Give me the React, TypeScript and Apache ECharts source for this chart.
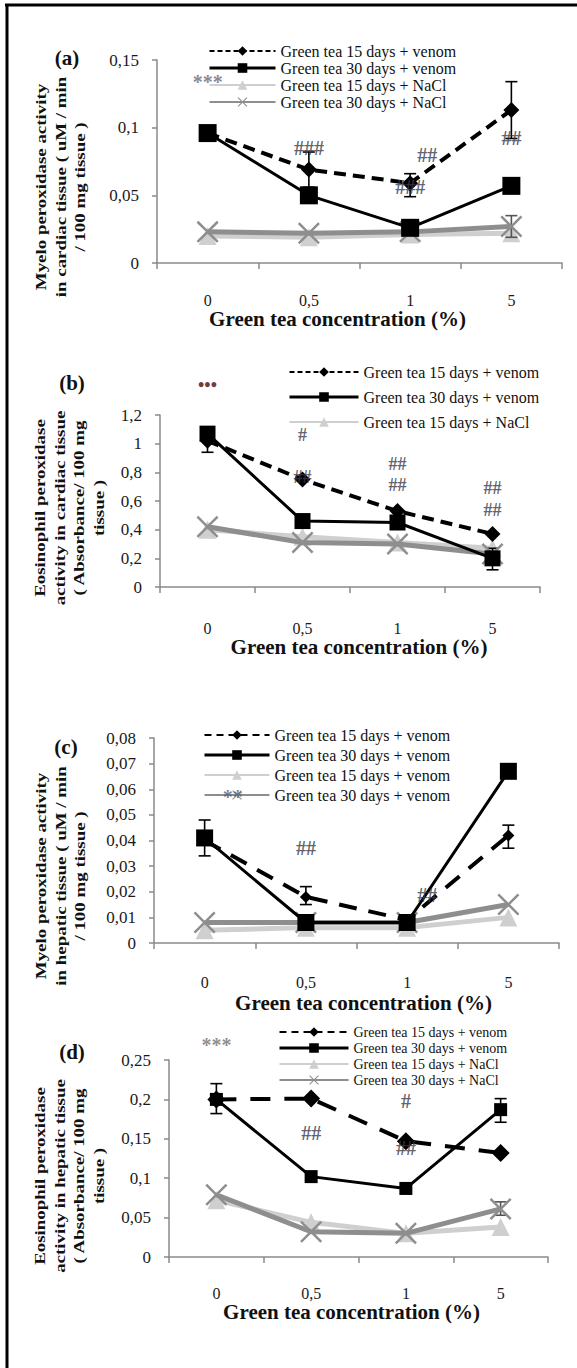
import React, { useEffect, useRef } from "react";
import * as echarts from "echarts";

// ---------- DATA ----------
const categories = ["0", "0,5", "1", "5"];

const legendA = ["Green tea 15 days + venom", "Green tea 30 days + venom", "Green tea 15 days + NaCl", "Green tea 30 days + NaCl"];
const legendB = ["Green tea 15 days + venom", "Green tea 30 days + venom", "Green tea 15 days + NaCl", "Green tea 30 days + NaCl"];
const legendC = ["Green tea 15 days + venom", "Green tea 30 days + venom", "Green tea 15 days + venom", "Green tea 30 days + venom"];
const legendD = ["Green tea 15 days + venom", "Green tea 30 days + venom", "Green tea 15 days + NaCl", "Green tea 30 days + NaCl"];

// (a) Myeloperoxidase, cardiac
const a15Venom = [0.096, 0.069, 0.059, 0.113];
const a30Venom = [0.096, 0.05, 0.026, 0.057];
const a15NaCl = [0.02, 0.019, 0.021, 0.022];
const a30NaCl = [0.023, 0.022, 0.023, 0.027];
const aErr15Venom = [[1, 0.056, 0.082], [2, 0.049, 0.066], [3, 0.092, 0.134]];
const aErr30NaCl = [[3, 0.019, 0.035]];
const annotA = [[0, 0.134, "***"], [1, 0.085, "###"], [2, 0.08, "##"], [2, 0.056, "###"], [3, 0.092, "##"]];

// (b) Eosinophil peroxidase, cardiac
const b15Venom = [1.02, 0.75, 0.53, 0.37];
const b30Venom = [1.07, 0.46, 0.45, 0.2];
const b15NaCl = [0.4, 0.35, 0.31, 0.27];
const b30NaCl = [0.42, 0.31, 0.3, 0.23];
const bErr30Venom = [[0, 0.94, 1.07], [3, 0.12, 0.27]];
const annotB = [[0, 1.41, "•••"], [1, 1.06, "#"], [1, 0.77, "##"], [2, 0.86, "##"], [2, 0.71, "##"], [3, 0.69, "##"], [3, 0.54, "##"]];

// (c) Myeloperoxidase, hepatic
const c15Venom = [0.04, 0.018, 0.009, 0.042];
const c30Venom = [0.041, 0.008, 0.008, 0.067];
const c15NaCl = [0.005, 0.006, 0.006, 0.01];
const c30NaCl = [0.008, 0.008, 0.008, 0.015];
const cErr30Venom = [[0, 0.034, 0.048]];
const cErr15Venom = [[1, 0.015, 0.022], [3, 0.037, 0.046]];
const annotC = [[1, 0.037, "##"], [2, 0.0187, "##"], [0, 0.057, "**"]];

// (d) Eosinophil peroxidase, hepatic
const d15Venom = [0.2, 0.201, 0.147, 0.132];
const d30Venom = [0.2, 0.102, 0.087, 0.187];
const d15NaCl = [0.072, 0.044, 0.03, 0.038];
const d30NaCl = [0.079, 0.032, 0.03, 0.061];
const dErr30Venom = [[0, 0.182, 0.22], [3, 0.171, 0.201]];
const dErr30NaCl = [[3, 0.053, 0.07]];
const annotD = [[0, 0.269, "***"], [1, 0.157, "##"], [2, 0.198, "#"], [2, 0.138, "##"]];

// ---------- STYLE / LAYOUT ----------
const FONT = '"Liberation Serif", "Times New Roman", serif';
const AXIS_COLOR = "#8a8a8a";
const XPATH = "path://M0,0.8L0.8,0L5,4.2L9.2,0L10,0.8L5.8,5L10,9.2L9.2,10L5,5.8L0.8,10L0,9.2L4.2,5Z";

const STYLES = [
  { color: "#000000", width: 4, symbol: "diamond", z: 4 },
  { color: "#000000", width: 3, symbol: "rect", z: 5 },
  { color: "#cfcfcf", width: 5, symbol: "triangle", z: 2 },
  { color: "#8e8e8e", width: 5, symbol: XPATH, z: 3 },
];

const HASH = "#3a3a4a";

const PANELS = [
  {
    id: "a", tag: "(a)", tagPos: [67, 58],
    yTitle: "Myelo peroxidase activity\nin cardiac tissue ( uM / min\n/ 100 mg tissue )", yTitlePos: [61, 187],
    grid: { left: 157, top: 60, width: 405, height: 203 }, max: 0.15, interval: 0.05,
    values: [a15Venom, a30Venom, a15NaCl, a30NaCl], labels: legendA, legendCount: 4,
    errors: [{ s: 0, data: aErr15Venom }, { s: 3, data: aErr30NaCl }],
    annots: annotA, annotShift: [0, 0, 17, 0, 0], annotColors: ["#66687a", HASH, HASH, HASH, HASH], annotSize: 20,
    legend: { left: 208, top: 43, itemWidth: 66, itemGap: 1, fontSize: 16 },
    labelMargin: 29, nameGap: 43, nameShift: -22, sizes: [16, 18, 18, 22], dash: [12, 7], legendDash: [5, 3],
  },
  {
    id: "b", tag: "(b)", tagPos: [72, 383],
    yTitle: "Eosinophil peroxidase\nactivity in cardiac tissue\n( Absorbance/ 100 mg\ntissue )", yTitlePos: [70, 508],
    grid: { left: 160, top: 415, width: 380, height: 172 }, max: 1.2, interval: 0.2,
    values: [b15Venom, b30Venom, b15NaCl, b30NaCl], labels: legendB, legendCount: 3,
    errors: [{ s: 1, data: bErr30Venom }],
    annots: annotB, annotShift: [0, 0, 0, 0, 0, 0, 0], annotColors: ["#4a0808", HASH, HASH, HASH, HASH, HASH, HASH], annotSize: 18,
    legend: { left: 288, top: 364, itemWidth: 69, itemGap: 9, fontSize: 16 },
    labelMargin: 33, nameGap: 44, nameShift: 9, sizes: [16, 16, 18, 22], dash: [12, 7], legendDash: [5, 3],
  },
  {
    id: "c", tag: "(c)", tagPos: [66, 747],
    yTitle: "Myelo peroxidase activity\nin hepatic tissue ( uM / min\n/ 100 mg tissue )", yTitlePos: [61, 876],
    grid: { left: 154, top: 738, width: 405, height: 205 }, max: 0.08, interval: 0.01,
    values: [c15Venom, c30Venom, c15NaCl, c30NaCl], labels: legendC, legendCount: 4,
    errors: [{ s: 1, data: cErr30Venom }, { s: 0, data: cErr15Venom }],
    annots: annotC, annotShift: [0, 20, 28], annotColors: [HASH, HASH, "#56607e"], annotSize: 20,
    legend: { left: 203, top: 727, itemWidth: 65, itemGap: 4, fontSize: 16 },
    labelMargin: 31, nameGap: 49, nameShift: 7, sizes: [12, 17, 18, 22], dash: [18, 12], legendDash: [7, 5],
  },
  {
    id: "d", tag: "(d)", tagPos: [72, 1052],
    yTitle: "Eosinophil peroxidase\nactivity in hepatic tissue\n( Absorbance/ 100 mg\ntissue )", yTitlePos: [70, 1176],
    grid: { left: 169, top: 1060, width: 379, height: 197 }, max: 0.25, interval: 0.05,
    values: [d15Venom, d30Venom, d15NaCl, d30NaCl], labels: legendD, legendCount: 4,
    errors: [{ s: 1, data: dErr30Venom }, { s: 3, data: dErr30NaCl }],
    annots: annotD, annotShift: [0, 0, 0, 0], annotColors: ["#707070", HASH, HASH, HASH], annotSize: 20,
    legend: { left: 278, top: 1025, itemWidth: 69, itemGap: 2, fontSize: 14 },
    labelMargin: 28, nameGap: 42, nameShift: -7, sizes: [18, 13, 18, 22], dash: [20, 14], legendDash: [7, 5],
  },
];

function buildOption() {
  const grid: any[] = [];
  const xAxis: any[] = [];
  const yAxis: any[] = [];
  const series: any[] = [];
  const legend: any[] = [];
  const graphic: any[] = [];

  graphic.push({ type: "line", shape: { x1: 5, y1: 5, x2: 577, y2: 5 }, style: { stroke: "#000", lineWidth: 3 }, silent: true });
  graphic.push({ type: "line", shape: { x1: 7, y1: 4, x2: 7, y2: 1368 }, style: { stroke: "#000", lineWidth: 3 }, silent: true });

  PANELS.forEach((p, pi) => {
    grid.push({ ...p.grid });
    const shift = p.nameShift;
    xAxis.push({
      type: "category",
      gridIndex: pi,
      data: categories,
      boundaryGap: true,
      axisLine: { lineStyle: { color: AXIS_COLOR, width: 1.5 } },
      axisTick: { show: true, length: 6, lineStyle: { color: AXIS_COLOR, width: 1.5 } },
      axisLabel: { margin: p.labelMargin, fontSize: 16, fontFamily: FONT, color: "#1a1a1a" },
      name: "Green tea concentration (%)",
      nameLocation: "middle",
      nameGap: p.nameGap,
      nameTextStyle: {
        fontFamily: FONT, fontWeight: "bold", fontSize: 21, color: "#111",
        padding: shift >= 0 ? [0, 0, 0, 2 * shift] : [0, -2 * shift, 0, 0],
      },
    });
    yAxis.push({
      type: "value",
      gridIndex: pi,
      min: 0,
      max: p.max,
      interval: p.interval,
      splitLine: { show: false },
      axisLine: { show: true, lineStyle: { color: AXIS_COLOR, width: 1.5 } },
      axisTick: { show: true, length: 5, lineStyle: { color: AXIS_COLOR, width: 1.5 } },
      axisLabel: {
        margin: 18, fontSize: 17, fontFamily: FONT, color: "#1a1a1a",
        formatter: (v: number) => String(Math.round(v * 1000) / 1000).replace(".", ","),
      },
    });

    const names = p.values.map((_, s) => `${p.id}${s}|${p.labels[s]}`);

    p.values.forEach((vals, s) => {
      const st = STYLES[s];
      series.push({
        type: "line",
        name: names[s],
        xAxisIndex: pi,
        yAxisIndex: pi,
        data: vals,
        z: st.z,
        symbol: st.symbol,
        symbolSize: p.sizes[s],
        showAllSymbol: true,
        lineStyle: { color: st.color, width: st.width, type: s === 0 ? p.dash : "solid" },
        itemStyle: { color: st.color },
        emphasis: { disabled: true },
      });
    });

    p.errors.forEach((e) => {
      const col = e.s >= 2 ? "#555555" : "#000000";
      series.push({
        type: "custom",
        name: `${p.id}err${e.s}`,
        xAxisIndex: pi,
        yAxisIndex: pi,
        z: 3,
        silent: true,
        encode: { x: 0, y: [1, 2] },
        data: e.data,
        renderItem: (params: any, api: any) => {
          const x = api.value(0);
          const lo = api.coord([x, api.value(1)]);
          const hi = api.coord([x, api.value(2)]);
          const half = 6;
          const style = { stroke: col, lineWidth: 1.6 };
          return {
            type: "group",
            children: [
              { type: "line", shape: { x1: lo[0], y1: lo[1], x2: hi[0], y2: hi[1] }, style },
              { type: "line", shape: { x1: hi[0] - half, y1: hi[1], x2: hi[0] + half, y2: hi[1] }, style },
              { type: "line", shape: { x1: lo[0] - half, y1: lo[1], x2: lo[0] + half, y2: lo[1] }, style },
            ],
          };
        },
      });
    });

    series.push({
      type: "scatter",
      name: `${p.id}annot`,
      xAxisIndex: pi,
      yAxisIndex: pi,
      z: 8,
      clip: false,
      silent: true,
      symbolSize: 1,
      itemStyle: { color: "rgba(0,0,0,0)" },
      data: p.annots.map((a, k) => ({
        value: [a[0], a[1]],
        name: a[2],
        label: { offset: [p.annotShift[k], 0], color: p.annotColors[k] },
      })),
      label: {
        show: true, position: "inside", formatter: "{b}",
        fontFamily: FONT, fontSize: p.annotSize, fontWeight: "bold", lineHeight: p.annotSize,
      },
    });

    const legendLine = [
      { type: p.legendDash, width: 2 },
      { type: "solid", width: 3 },
      { type: "solid", width: 2 },
      { type: "solid", width: 2 },
    ];
    legend.push({
      orient: "vertical",
      left: p.legend.left,
      top: p.legend.top,
      padding: 0,
      itemWidth: p.legend.itemWidth,
      itemHeight: 12,
      itemGap: p.legend.itemGap,
      selectedMode: false,
      formatter: (n: string) => n.split("|")[1],
      textStyle: { fontFamily: FONT, fontSize: p.legend.fontSize, lineHeight: p.legend.fontSize, color: "#111" },
      data: names.slice(0, p.legendCount).map((n, s) => ({ name: n, lineStyle: legendLine[s] })),
    });

    graphic.push({
      type: "text", x: p.tagPos[0], y: p.tagPos[1], silent: true,
      style: { text: p.tag, fontFamily: FONT, fontWeight: "bold", fontSize: 21, fill: "#111", align: "center", verticalAlign: "middle" },
    });
    graphic.push({
      type: "text", x: p.yTitlePos[0], y: p.yTitlePos[1], rotation: Math.PI / 2, scaleX: 1.35, silent: true,
      style: {
        text: p.yTitle, fontFamily: FONT, fontWeight: "bold", fontSize: 14, lineHeight: 19.5,
        fill: "#111", align: "center", verticalAlign: "middle",
      },
    });
  });

  return { animation: false, backgroundColor: "#ffffff", grid, xAxis, yAxis, series, legend, graphic };
}

export default function App() {
  const ref = useRef<HTMLDivElement>(null);
  useEffect(() => {
    document.body.style.margin = "0";
    const chart = echarts.init(ref.current as HTMLDivElement, null, { renderer: "svg" });
    chart.setOption(buildOption() as any);
    return () => chart.dispose();
  }, []);
  return <div ref={ref} style={{ width: 577, height: 1368 }} />;
}
